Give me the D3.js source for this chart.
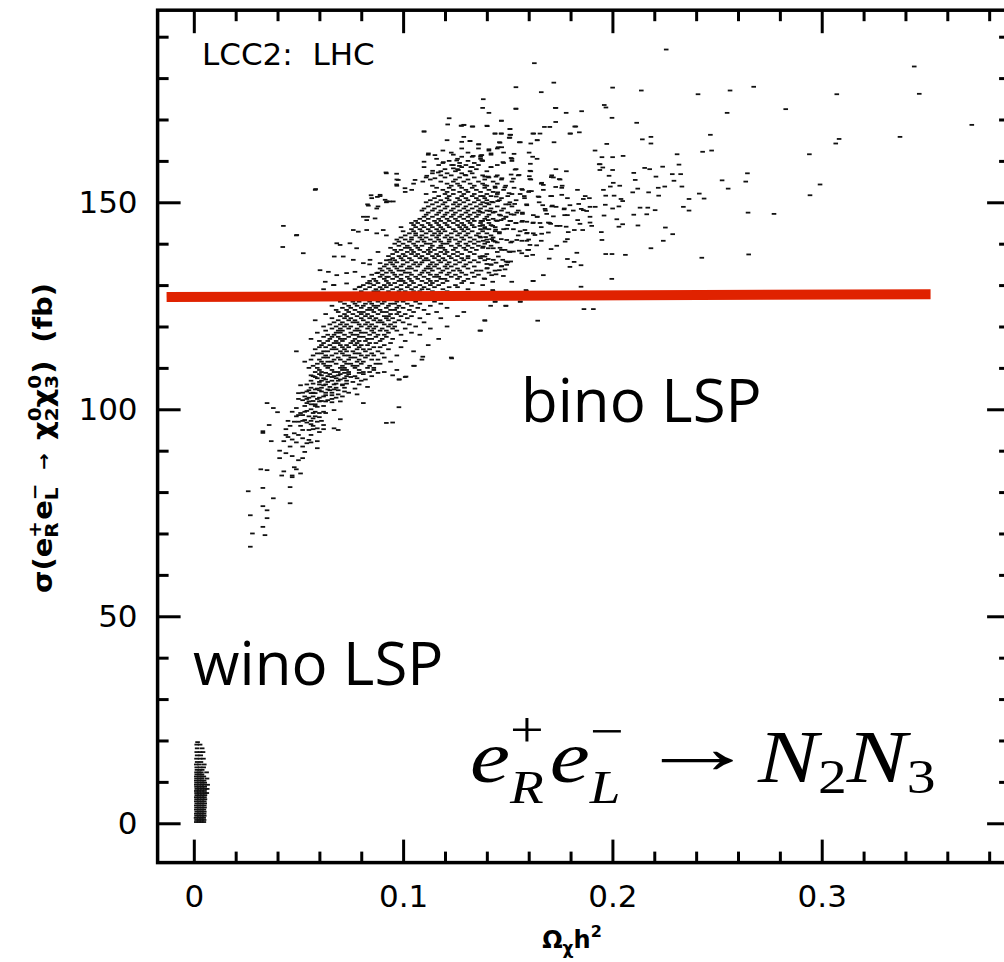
<!DOCTYPE html>
<html>
<head>
<meta charset="utf-8">
<script src="https://cdn.jsdelivr.net/npm/d3@7"></script>
<style>
  body { margin: 0; background: #fff; }
  svg { display: block; }
</style>
</head>
<body>
<svg id="chart" width="1004" height="962"></svg>
<script>
// ---- Axis ticks ----
const omegaMajorTicks = [0, 0.1, 0.2, 0.3];
const omegaMinorTicks = [0.02, 0.04, 0.06, 0.08, 0.12, 0.14, 0.16, 0.18, 0.22, 0.24, 0.26, 0.28, 0.32, 0.34, 0.36, 0.38];
const sigmaMajorTicks = [0, 50, 100, 150];
const sigmaMinorTicks = [10, 20, 30, 40, 60, 70, 80, 90, 110, 120, 130, 140, 160, 170, 180, 190];

// ---- Bino-LSP scan points: rows of [sigma (fb), [Omega h^2 ...]] ----
const binoRows = [
  [66.8,[.027]],[69.6,[.034]],[70.0,[.028]],[71.6,[.033]],[73.7,[.035]],[74.4,[.027]],
  [75.6,[.035]],[76.6,[.033]],[77.3,[.046]],[78.5,[.038]],[80.2,[.026]],[81.0,[.033]],
  [81.2,[.046]],[83.6,[.047]],[84.0,[.042,.047]],[84.5,[.051]],[85.0,[.043]],[85.3,[.035]],
  [85.5,[.032,.049]],[86.0,[.048]],[87.7,[.050]],[88.2,[.041,.052]],[88.7,[.047]],[89.4,[.044]],[89.7,[.053]],
  [90.0,[.041]],[90.6,[.059]],[91.0,[.046,.052]],[91.8,[.054]],[92.0,[.049,.056]],[92.3,[.037,.043,.059]],
  [92.6,[.055]],[92.7,[.047]],[93.0,[.052]],[93.3,[.045]],[93.8,[.044,.050,.056]],[94.2,[.048]],[94.3,[.033]],
  [94.5,[.060]],[94.7,[.033]],[95.0,[.052,.055,.069]],[95.2,[.044,.057,.062]],
  [95.4,[.059,.067]],[96.0,[.046,.051,.057]],[96.2,[.036,.062]],[96.4,[.056]],[96.7,[.092]],[96.8,[.054,.095]],
  [97.0,[.048,.050,.059]],[97.2,[.045,.052,.056,.061]],[97.4,[.053]],[97.6,[.070]],[97.8,[.057]],[98.1,[.060]],
  [98.3,[.049,.055,.058]],[98.6,[.050,.052]],[99.1,[.051,.057,.060,.063]],[99.3,[.040]],[99.4,[.047,.053,.058,.062]],
  [99.6,[.054]],[99.8,[.067]],
  [100.0,[.056]],[100.3,[.038,.049]],[100.5,[.098]],[100.6,[.059]],[100.8,[.053,.058,.062]],[101.2,[.056,.058]],
  [101.5,[.035,.054,.081]],[101.7,[.066]],[101.9,[.055,.060,.063,.070]],[102.0,[.057,.061]],[102.2,[.052,.064]],
  [102.5,[.050,.054,.059,.066]],[102.8,[.055,.060,.068]],[103.1,[.053,.057,.062,.071]],[103.4,[.063,.066]],
  [103.6,[.069,.078]],[103.9,[.050,.056,.058]],[104.0,[.052,.057,.063,.066,.074]],
  [104.3,[.054,.061,.072]],[104.6,[.055,.060,.065,.069]],[104.8,[.058,.064,.067]],[105.0,[.059,.077]],
  [105.2,[.056,.061,.068,.072]],[105.4,[.065,.083]],
  [105.8,[.051,.062,.071]],[106.0,[.054,.060,.063,.067,.071,.079]],[106.2,[.057,.068,.073]],
  [106.6,[.060,.064,.076]],[106.9,[.056,.061,.066,.069,.073,.080]],
  [107.2,[.063,.070,.082,.098]],[107.5,[.059,.062,.068,.072,.078]],[107.8,[.058,.066,.075,.101]],
  [108.0,[.057,.064,.067,.073,.077,.085]],[108.2,[.056,.061,.069,.095]],[108.5,[.060,.065,.070,.074,.081]],
  [108.8,[.063,.072,.079,.088]],
  [109.0,[.058,.061,.067,.069,.074,.081,.084,.091]],
  [109.5,[.060,.066,.071,.073,.079,.086,.097]],
  [110.0,[.055,.059,.064,.070,.072,.077,.083,.086]],
  [110.5,[.057,.063,.065,.071,.076,.078,.084,.105]],
  [111.0,[.059,.062,.068,.073,.075,.080,.087,.089]],
  [111.5,[.053,.061,.064,.066,.072,.078,.081,.094]],
  [112.0,[.056,.060,.067,.070,.074,.079,.085,.088,.109]],
  [112.5,[.062,.064,.069,.075,.077,.082,.091,.123]],
  [113.0,[.057,.063,.066,.072,.074,.080,.083,.086,.097]],
  [113.5,[.059,.061,.068,.071,.077,.079,.085,.090]],
  [114.0,[.049,.062,.064,.070,.073,.076,.082,.088,.105]],
  [114.5,[.058,.066,.068,.072,.078,.081,.084,.093]],
  [115.0,[.060,.063,.067,.071,.074,.079,.086,.089,.099]],
  [115.5,[.061,.065,.070,.073,.077,.080,.083,.091,.112]],
  [116.0,[.062,.067,.069,.075,.078,.084,.087,.094]],
  [116.5,[.060,.064,.068,.071,.076,.079,.082,.089,.101]],
  [117.0,[.056,.065,.070,.072,.077,.083,.085,.090,.095,.117]],
  [117.5,[.062,.066,.069,.074,.079,.081,.087,.092]],
  [118.0,[.064,.067,.072,.076,.078,.084,.088,.091,.099,.108]],
  [118.5,[.059,.068,.070,.075,.080,.082,.086,.093,.104]],
  [119.0,[.063,.069,.071,.077,.079,.085,.089,.092,.097,.137]],
  [119.5,[.066,.070,.074,.078,.083,.086,.090,.095,.101,.113]],
  [120.0,[.062,.068,.072,.075,.080,.084,.087,.093,.096,.106,.121]],
  [120.5,[.065,.070,.073,.079,.082,.085,.091,.094,.103]],
  [121.0,[.067,.071,.076,.078,.083,.088,.090,.096,.100,.110]],
  [121.5,[.058,.069,.074,.077,.081,.086,.089,.093,.098,.139]],
  [122.0,[.066,.072,.075,.080,.084,.087,.092,.095,.102,.108,.118]],
  [122.5,[.070,.073,.078,.082,.085,.091,.093,.099,.104,.126]],
  [123.0,[.063,.072,.076,.080,.083,.088,.094,.097,.101,.112]],
  [123.5,[.069,.074,.079,.081,.086,.090,.092,.098,.105,.116,.129]],
  [124.0,[.068,.073,.077,.083,.085,.089,.094,.096,.103,.110]],
  [124.5,[.071,.075,.080,.084,.087,.092,.097,.100,.107,.121]],
  [125.0,[.066,.074,.078,.081,.086,.088,.093,.098,.104,.113,.149]],
  [125.5,[.072,.077,.082,.085,.090,.094,.096,.102,.108,.118]],
  [126.0,[.070,.076,.079,.084,.088,.091,.097,.100,.106,.115,.144,.156]],
  [126.5,[.074,.078,.083,.087,.089,.095,.099,.103,.110,.124]],
  [127.0,[.073,.076,.081,.086,.090,.093,.098,.104,.108,.119]],
  [127.5,[.077,.080,.085,.088,.092,.097,.101,.105,.112]],
  [128.0,[.075,.079,.083,.089,.091,.096,.100,.107,.111,.117,.127]],
  [128.5,[.080,.086,.088,.093,.098,.101,.105,.108,.114,.121,.143,.159]],
  [129.0,[.062,.077,.082,.087,.090,.095,.099,.104,.109,.112,.119,.131]],
  [129.5,[.079,.084,.089,.092,.097,.102,.106,.110,.115,.122,.126]],
  [130.0,[.067,.081,.086,.091,.094,.099,.103,.108,.113,.117,.125,.138]],
  [130.5,[.083,.088,.093,.096,.101,.105,.111,.114,.119,.128,.133]],
  [131.0,[.084,.087,.092,.098,.100,.104,.109,.113,.116,.121,.129,.162]],
  [131.5,[.086,.091,.095,.099,.103,.107,.112,.118,.120,.126,.131,.139]],
  [132.0,[.081,.089,.093,.097,.102,.106,.110,.115,.117,.123,.127,.134]],
  [132.5,[.085,.090,.096,.099,.104,.108,.113,.116,.121,.125,.130,.136]],
  [133.0,[.088,.092,.095,.101,.103,.109,.112,.118,.122,.128,.133,.141]],
  [133.5,[.090,.094,.098,.100,.106,.110,.114,.119,.124,.127,.135]],
  [134.0,[.089,.093,.097,.102,.104,.111,.113,.117,.121,.126,.131,.140]],
  [134.5,[.091,.096,.099,.103,.107,.112,.115,.120,.123,.129,.134,.147]],
  [135.0,[.084,.092,.095,.100,.105,.108,.113,.116,.121,.125,.130,.142]],
  [135.5,[.094,.097,.102,.106,.109,.114,.118,.122,.127,.132,.136,.150]],
  [136.0,[.092,.096,.100,.104,.110,.112,.117,.120,.125,.129,.134,.139]],
  [136.5,[.095,.099,.103,.108,.111,.115,.119,.123,.128,.131,.137]],
  [137.0,[.093,.098,.101,.106,.109,.114,.117,.122,.126,.131,.138,.159]],
  [137.5,[.095,.100,.104,.107,.112,.116,.120,.124,.128,.134,.140]],
  [138.0,[.088,.097,.102,.105,.110,.113,.118,.121,.126,.132,.145,.151]],
  [138.5,[.096,.099,.104,.108,.112,.115,.120,.124,.130,.135,.147,.160]],
  [139.0,[.094,.101,.103,.107,.113,.117,.119,.125,.129,.133,.138]],
  [139.5,[.098,.102,.106,.109,.114,.118,.123,.127,.131,.136,.142]],
  [140.0,[.096,.100,.105,.111,.113,.119,.121,.126,.130,.134,.139]],
  [140.5,[.098,.103,.107,.110,.115,.118,.122,.127,.132,.136,.144,.152]],
  [141.0,[.097,.101,.104,.109,.113,.117,.122,.125,.129,.134,.140,.160]],
  [141.5,[.099,.104,.108,.111,.116,.120,.123,.128,.132,.137,.143]],
  [142.0,[.049,.092,.101,.106,.109,.114,.117,.121,.126,.130,.135,.142,.155]],
  [142.5,[.103,.106,.111,.115,.118,.123,.127,.131,.136,.140,.146,.159]],
  [143.0,[.100,.105,.109,.113,.117,.120,.125,.129,.133,.138,.144]],
  [143.5,[.104,.108,.112,.116,.119,.124,.128,.131,.137,.141,.148]],
  [144.0,[.099,.106,.110,.114,.118,.122,.127,.130,.134,.139,.144,.166]],
  [144.5,[.105,.109,.113,.117,.121,.126,.129,.133,.138,.142,.150]],
  [145.0,[.104,.107,.112,.116,.120,.124,.128,.132,.137,.141,.154,.162,.170]],
  [145.5,[.106,.110,.115,.118,.122,.126,.131,.134,.138,.145,.151,.157]],
  [146.0,[.108,.112,.117,.121,.125,.129,.133,.139,.143,.148]],
  [146.5,[.083,.110,.114,.119,.123,.127,.131,.135,.140,.149,.164]],
  [147.0,[.111,.116,.120,.124,.128,.132,.136,.141,.146,.153]],
  [147.5,[.112,.117,.121,.125,.130,.134,.138,.143,.150,.157]],
  [148.0,[.109,.114,.118,.123,.127,.131,.136,.140,.147,.155,.168]],
  [148.5,[.110,.115,.120,.124,.129,.133,.137,.142,.148,.177]],
  [149.0,[.088,.112,.117,.121,.126,.130,.135,.139,.145,.152,.171]],
  [149.5,[.083,.114,.119,.124,.127,.132,.137,.141,.149,.159]],
  [150.0,[.092,.111,.116,.120,.125,.129,.134,.138,.143,.151,.165]],
  [150.5,[.113,.118,.122,.127,.131,.136,.140,.146,.154]],
  [151.0,[.085,.115,.121,.126,.130,.135,.139,.147,.158]],
  [151.5,[.089,.117,.122,.128,.133,.137,.142,.150,.171]],
  [152.0,[.111,.120,.124,.129,.134,.140,.145,.152]],
  [152.5,[.101,.115,.121,.127,.131,.137,.143,.160]],
  [153.0,[.058,.119,.124,.130,.135,.141,.148,.157,.167]],
  [153.5,[.116,.122,.128,.133,.139,.144,.153]],
  [154.0,[.097,.114,.123,.127,.134,.140,.149,.176]],
  [154.5,[.105,.121,.126,.132,.138,.145,.166]],
  [155.0,[.118,.124,.129,.136,.143,.152]],
  [155.5,[.097,.113,.125,.131,.139,.147,.161,.175]],
  [156.0,[.111,.120,.127,.134,.141]],
  [156.5,[.118,.123,.130,.138,.145,.155,.171]],
  [157.0,[.092,.114,.121,.128,.133]],
  [157.5,[.118,.125,.132,.140,.161,.178]],
  [158.0,[.120,.126,.135,.154,.173]],
  [158.5,[.110,.128,.133,.142]],
  [159.0,[.117,.124,.130,.136,.145]],
  [159.5,[.119,.127,.134,.148]],
  [160.0,[.122,.131,.138,.152]],
  [160.5,[.116,.126,.137,.152,.164]],
  [161.0,[.128,.133,.137]],
  [161.5,[.112,.124,.142]],
  [162.0,[.123,.131,.148]],
  [162.5,[.119,.141]],
  [163.0,[.128,.136,.145]],
  [164.0,[.136]],[164.5,[.146,.156]],[164.8,[.132]],[165.0,[.121,.164]],[165.6,[.151]],
  [165.8,[.129]],[166.3,[.151]],[166.6,[.144,.147,.162,.180]],[167.1,[.110]],[167.7,[.151]],
  [168.3,[.133,.182]],[168.5,[.128,.140]],[168.7,[.129]],[169.7,[.147]],[170.3,[.122]],
  [172.6,[.154]],[172.8,[.173]],[176.6,[.166]]
];

// ---- Individually placed bino-LSP points on the outer, sparse edge: [Omega h^2, sigma (fb)] ----
const binoOuter = [
  [.1627,183.6],[.1539,177.8],[.172,178.9],[.1383,174.9],[.138,172.8],[.141,171.6],[.1538,172.6],
  [.1727,172.8],[.1779,171.6],[.1853,172],[.1469,169.7],[.1402,168.4],[.1511,167.7],[.1438,166.6],
  [.1468,166.6],[.1514,166.3],[.1507,165.6],[.1624,166.6],[.1654,166.6],[.1675,168.2],[.1701,168.2],
  [.1729,169.4],[.1825,168.3],[.1797,166.6],[.1842,166.9],[.1641,165],[.161,164.2],[.1555,164.5],
  [.1463,164.4],[.1454,163.3],[.1471,163.3],[.1721,164.5],[.141,162.8],[.142,161.8],[.153,161.7],
  [.1602,162],[.1619,161],[.1516,160.7],[.1371,161.3],[.1379,160.1],[.1477,159.7],[.142,158.5],
  [.1535,157.9],[.1608,159.3],[.1606,157.6],[.139,156.2],[.1407,156.2],[.1444,156.2],[.1472,155.8],
  [.1516,156.7],[.1527,155.7],[.1554,156.6],[.1603,156.3],[.1606,155.6],[.1662,154.7],[.1708,156.1],
  [.1718,156],[.1746,155.6],[.139,154.1],[.1439,153.8],[.1486,153.6],[.1567,153.2],[.1602,152.7],
  [.1613,152.7],[.167,154.2],[.1729,153.7],[.1758,153.5],[.1383,151.5],[.1445,151.4],[.1452,152.4],
  [.1506,152.2],[.1559,152],[.1579,151.5],[.1645,151.4],[.1705,151.5],[.1758,151.8],[.1785,151],
  [.1833,153],[.187,151.5],[.189,151],[.14,149.8],[.1423,150.1],[.1452,150.3],[.1506,149.5],
  [.1533,149.6],[.1591,149.3],[.1649,151.3],[.1667,149.3],[.1678,148.4],[.1713,149.2],[.1731,148.9],
  [.1769,148.3],[.1797,149.3],[.1839,149.6],[.1851,148.4],[.1893,148.9],[.1918,148.9],[.1861,150.8],
  [.1367,147.7],[.1415,147.9],[.1439,147.7],[.1466,146.8],[.1492,146.5],[.1516,147.1],[.1543,147.5],
  [.157,147.2],[.1622,146.9],[.1641,146.5],[.1686,147.2],[.1718,146.6],[.1772,146.9],[.1785,146.9],
  [.1813,148],[.1861,148.1],[.1877,147.9],[.1893,146.5],[.1372,145.5],[.1407,145.7],[.1444,145.6],
  [.1468,145.7],[.1514,145.5],[.1538,145],[.1567,145.3],[.1591,145.3],[.1622,145.1],[.1654,145],
  [.1694,145.1],[.1705,144.8],[.1734,144.3],[.175,144.3],[.1779,144.1],[.1834,145.7],[.1845,144.8],
  [.1893,145.1],[.1901,144.3],[.1367,144.3],[.1391,143.6],[.1428,144.3],[.1442,143.4],[.146,142.8],
  [.1495,143.6],[.1527,143.5],[.1559,143],[.1582,143.3],[.1593,142.6],[.1622,142.5],[.163,142.1],
  [.1662,142.4],[.1694,142.7],[.1789,142.8],[.1818,143.3],[.1858,143.3],[.1367,141.7],[.1394,141.6],
  [.1423,141.1],[.1383,140.7],[.1404,140.4],[.1431,140.7],[.145,140.3],[.1469,141.1],[.1495,140.9],
  [.1514,140.3],[.1543,140.9],[.1567,140.7],[.1591,140.7],[.1606,139.7],[.1638,139.6],[.166,140.7],
  [.1707,138.7],[.1734,139.5],[.1774,140.5],[.1785,141.1],[.183,137.8],[.1383,139.3],[.1407,138.9],
  [.1431,138.9],[.1463,139],[.1487,138.5],[.1506,138.1],[.1527,138.1],[.1555,138.3],[.1567,137.7],
  [.1595,138.5],[.1619,137.3],[.1698,136.4],[.1785,136.3],[.1817,135.6],[.185,134.8],[.1797,134.4],
  [.1367,136.9],[.1391,136.9],[.1407,136.3],[.1431,136.1],[.1455,136.9],[.1476,136.1],[.1492,135.7],
  [.1514,135.7],[.14,135.1],[.142,134.9],[.1444,135.4],[.1471,134.6],[.1495,134.9],[.1372,133.5],
  [.1402,134.1],[.1439,133.5],[.146,133.6],[.1487,133.8],[.1423,132.4],[.1444,132.6],[.1479,132.2],
  [.1387,131.6],[.1428,130.8],[.1519,130.8],[.1622,131],[.167,132.4],[.1587,128.8],[.1428,128.8],
  [.1439,126],[.1418,125],[.1492,125],[.1559,126],[.1864,124.2],[.1909,124.2],[.185,129.6],
  [.1917,162.5],[.1937,159.2],[.194,157.8],[.1643,121.4],[.1391,121.4],[.1367,119],[.1232,112.3],
  [.1094,112.7],[.1054,110.5],[.1014,107.9],[.0982,107.2],[.11,167.1],[.1213,168.8],[.1277,168.5],
  [.1291,168.7],[.1333,168.3],[.128,164.6],[.1319,164.8],[.1362,164],[.1121,161.8],[.1152,161.4],
  [.1192,159.7],[.1232,159],[.1256,160.1],[.1269,158.8],[.1335,161.2],[.1376,161.4],[.1324,158.5],
  [.1376,160.1],[.11,159.8],[.1141,157.6],[.1168,157.2],[.124,158.2],[.1264,157.8],[.1296,156.6],
  [.0918,157.2],[.0969,156.9],[.1113,156.4],[.1152,155.8],[.1057,155.4],[.1094,155],[.0977,155.4],
  [.0969,154.3],[.1009,153.4],[.1041,153],[.0914,150.6],[.0934,150.2],[.0847,151.7],[.0877,151.3],
  [.0582,153.2],[.0523,137.7],[.0428,144.3],[.0492,142.1],[.0425,139.2],[.0890,151.8],[.0922,150.2],
  [.0953,150.2],[.0834,149.2],[.0874,148.5],[.081,146.5],[.0826,145.7],[.0866,146.1],[.0762,143.3],
  [.0786,142.9],[.0826,143.3],[.0874,142.5],[.0905,143.3],[.0683,140.1],[.0699,139.7],[.0746,140.1],
  [.0778,138.9],[.0714,136.9],[.0762,136.1],[.081,135.3],[.0842,136.1],[.089,135.3],[.0937,136.1],
  [.0603,133.6],[.0643,133.2],[.0683,132.4],[.073,132.9],[.077,133.2],[.0874,132.9],[.0922,132],
  [.0628,130.8],[.0667,130],[.073,130.4],[.0794,129.6],[.0842,130.4],[.0671,136.9],
  // far tail above 0.19
  [.2257,186.9],[.3442,182.8],[.3466,176.2],[.3717,168.7],[.3374,165.8],[.3072,176.1],[.3083,165.3],
  [.3067,164.2],[.2941,161.6],[.2992,154.3],[.2944,151.7],[.2828,172.5],[.2675,177.9],[.2562,177],
  [.2409,176.1],[.2548,171.6],[.2138,177],[.2001,177.7],[.1961,173.5],[.1969,172.9],[.1998,170.4],
  [.2116,169.2],[.1973,164.1],[.2143,165.2],[.2184,165.8],[.2184,164.2],[.2468,166.3],[.2431,162.2],
  [.2474,162.5],[.2309,161.6],[.2318,159.1],[.224,158.6],[.2154,158.3],[.2178,158],[.2102,157.1],
  [.2208,156.2],[.2286,156.8],[.2326,156.8],[.2294,155.2],[.2332,153.8],[.225,153.8],[.2219,153.5],
  [.2109,155.4],[.2121,153.3],[.2097,152.4],[.2173,152.4],[.2221,151.6],[.2366,150.8],[.2415,152.1],
  [.2438,150.9],[.2339,148.9],[.2366,148],[.2132,148.7],[.2169,148.7],[.2204,148.1],[.2164,147.1],
  [.2102,147],[.2524,155.3],[.2553,153.3],[.2637,155],[.2645,157],[.2648,147.5],[.2772,147.2],
  [.2651,137.4],[.2427,136.6],[.2253,143.9],[.2288,142.3],[.2243,140.7],[.2184,138.9],[.2122,144.4],
  [.2031,144.1],[.2049,144.7],[.2021,145.9],[.196,146.8],[.2001,148.5],[.2031,149],[.1966,149.4],
  [.2008,151.6],[.1968,151.6],[.2041,150.8],[.2049,150.3],[.1957,153],[.199,153.8],[.2035,154],
  [.2004,154.7],[.1984,156.4],[.2001,157.8],[.1941,159.2],[.1954,158.4],[.195,160.9],[.2001,160.9],
  [.2051,161.2],[.1947,142.8],[.195,140.9],[.1968,137.5],[.1998,137.5],[.2062,137.3],[.1997,131.5]
];

// ---- Wino-LSP scan points: rows of [sigma (fb), [Omega h^2 ...]] ----
const winoRows = [
  [0.3,[.0012,.0024,.0036,.0048]],[0.8,[.0013,.0025,.0037,.0049]],[1.3,[.0011,.0024,.0036,.0047]],
  [1.8,[.0013,.0026,.0038,.0050]],[2.3,[.0012,.0024,.0036,.0049]],[2.8,[.0014,.0026,.0038,.0050]],
  [3.3,[.0012,.0025,.0037,.0048]],[3.8,[.0013,.0026,.0039,.0051]],[4.3,[.0012,.0024,.0037,.0050]],
  [4.8,[.0014,.0027,.0039,.0052]],[5.3,[.0012,.0025,.0038,.0050]],[5.8,[.0013,.0026,.0040,.0053]],
  [6.3,[.0012,.0025,.0038,.0051]],[6.8,[.0014,.0027,.0040,.0053]],[7.3,[.0013,.0026,.0039,.0052,.0062]],
  [7.8,[.0012,.0025,.0038,.0051]],[8.3,[.0014,.0027,.0040,.0053,.0064]],[8.8,[.0013,.0026,.0039,.0052]],
  [9.3,[.0012,.0025,.0038,.0050,.0066]],[9.8,[.0013,.0027,.0040,.0052]],[10.3,[.0012,.0025,.0038,.0049]],
  [10.8,[.0013,.0026,.0039,.0063]],[11.3,[.0012,.0025,.0037,.0048]],[11.8,[.0014,.0027,.0039]],
  [12.3,[.0013,.0025,.0036,.0061]],[12.9,[.0015,.0028,.0040]],[13.5,[.0014,.0030,.0047]],
  [14.2,[.0012,.0027,.0050]],[14.8,[.0016,.0034]],[15.6,[.0013,.0030,.0046]],[16.4,[.0016,.0033]],
  [17.2,[.0014,.0030,.0044]],[18.1,[.0016,.0040]],[19.0,[.0014,.0030]],[19.6,[.0018]]
];

// ---- Measured cross-section band [Omega h^2, sigma (fb)] ----
const measuredBand = [[-0.013, 127.1], [0.352, 127.8]];

// ---- Layout ----
const svg = d3.select("#chart");
const x = d3.scaleLinear().domain([-0.0173, 0.39]).range([157.6, 1010.1]);
const y = d3.scaleLinear().domain([-9.5, 196.4]).range([862.6, 10.2]);
const [xl, xr] = x.range();
const [yb, yt] = y.range();

const tickFont = "'DejaVu Sans', sans-serif";

// Scatter points, drawn as short dashes
const dashW = 4.6, dashH = 1.8;
const points = [];
binoRows.forEach(([s, os]) => os.forEach(o => points.push([o, s])));
binoOuter.forEach(p => points.push(p));
winoRows.forEach(([s, os]) => os.forEach(o => points.push([o, s])));

svg.append("g").attr("class", "points")
  .selectAll("rect").data(points).join("rect")
  .attr("x", d => x(d[0]) - dashW / 2)
  .attr("y", d => y(d[1]) - dashH / 2)
  .attr("width", dashW).attr("height", dashH)
  .attr("fill", "#111");

// Measurement band
svg.append("path")
  .datum(measuredBand)
  .attr("d", d3.line().x(d => x(d[0])).y(d => y(d[1])))
  .attr("stroke", "#e02200").attr("stroke-width", 10).attr("fill", "none");

// Axes (ticks point into the frame)
function styleAxis(g) {
  g.select(".domain").remove();
  g.selectAll(".tick line").attr("stroke", "#000").attr("stroke-width", 3);
  g.selectAll(".tick text").attr("font-family", tickFont).attr("font-size", 31).attr("fill", "#000");
}
const fmtOmega = d => d === 0 ? "0" : d3.format(".1f")(d);

svg.append("g").attr("transform", `translate(0,${yb})`)
  .call(d3.axisBottom(x).tickValues(omegaMajorTicks).tickSizeInner(-23).tickSizeOuter(0).tickPadding(22).tickFormat(fmtOmega))
  .call(styleAxis);
svg.append("g").attr("transform", `translate(0,${yb})`)
  .call(d3.axisBottom(x).tickValues(omegaMinorTicks).tickSizeInner(-11).tickSizeOuter(0).tickFormat(""))
  .call(styleAxis);
svg.append("g").attr("transform", `translate(0,${yt})`)
  .call(d3.axisTop(x).tickValues(omegaMajorTicks).tickSizeInner(-23).tickSizeOuter(0).tickFormat(""))
  .call(styleAxis);
svg.append("g").attr("transform", `translate(0,${yt})`)
  .call(d3.axisTop(x).tickValues(omegaMinorTicks).tickSizeInner(-11).tickSizeOuter(0).tickFormat(""))
  .call(styleAxis);

svg.append("g").attr("transform", `translate(${xl},0)`)
  .call(d3.axisLeft(y).tickValues(sigmaMajorTicks).tickSizeInner(-23).tickSizeOuter(0).tickPadding(20).tickFormat(d3.format("d")))
  .call(styleAxis);
svg.append("g").attr("transform", `translate(${xl},0)`)
  .call(d3.axisLeft(y).tickValues(sigmaMinorTicks).tickSizeInner(-11).tickSizeOuter(0).tickFormat(""))
  .call(styleAxis);
svg.append("g").attr("transform", `translate(${xr},0)`)
  .call(d3.axisRight(y).tickValues(sigmaMajorTicks).tickSizeInner(-23).tickSizeOuter(0).tickFormat(""))
  .call(styleAxis);
svg.append("g").attr("transform", `translate(${xr},0)`)
  .call(d3.axisRight(y).tickValues(sigmaMinorTicks).tickSizeInner(-11).tickSizeOuter(0).tickFormat(""))
  .call(styleAxis);

// Frame
svg.append("rect")
  .attr("x", xl).attr("y", yt).attr("width", xr - xl).attr("height", yb - yt)
  .attr("fill", "none").attr("stroke", "#000").attr("stroke-width", 3.5);

// Lay out a run of text pieces with sub/superscripts; returns total width.
function richText(g, runs, base) {
  let cursor = 0, lastStart = 0;
  runs.forEach(r => {
    const t = g.append("text")
      .attr("font-family", r.family || base.family)
      .attr("font-size", r.size || base.size)
      .attr("font-weight", r.weight || base.weight || "normal")
      .attr("font-style", r.italic ? "italic" : "normal")
      .attr("fill", "#000")
      .attr("y", r.shift || 0)
      .text(r.t);
    const w = t.node().getComputedTextLength();
    const x0 = r.stack ? lastStart : cursor + (r.gap || 0);
    t.attr("x", x0);
    if (!r.stack) lastStart = x0;
    cursor = Math.max(cursor, x0 + w);
  });
  return cursor;
}

// Corner label
svg.append("text").attr("x", 202).attr("y", 65)
  .attr("font-family", tickFont).attr("font-size", 31).attr("fill", "#000")
  .attr("xml:space", "preserve").style("white-space", "pre")
  .text("LCC2:  LHC");

// Region labels
const regionFont = "'Open Sans', sans-serif";
svg.append("text").attr("x", 521).attr("y", 422)
  .attr("font-family", regionFont).attr("font-size", 60).attr("fill", "#000").text("bino LSP");
svg.append("text").attr("x", 193).attr("y", 685)
  .attr("font-family", regionFont).attr("font-size", 60).attr("fill", "#000").text("wino LSP");

// Process formula (serif italic, widened to the math-font proportions)
const serif = "'Liberation Serif', serif";
const f1 = svg.append("g").attr("transform", "translate(470,782) scale(1.2,1)");
richText(f1, [
  { t: "e", italic: true },
  { t: "+", size: 50, shift: -35 },
  { t: "R", size: 46, italic: true, shift: 21, stack: true },
  { t: "e", italic: true, gap: 5 },
  { t: "\u2212", size: 50, shift: -34 },
  { t: "L", size: 46, italic: true, shift: 21, stack: true }
], { family: serif, size: 75 });
svg.append("text").attr("transform", "translate(697,773) scale(1.6,1)").attr("text-anchor", "middle")
  .attr("font-family", serif).attr("font-size", 75).attr("fill", "#000").text("\u2192");
const f2 = svg.append("g").attr("transform", "translate(758,782) scale(1.2,1)");
richText(f2, [
  { t: "N", italic: true },
  { t: "2", size: 48, shift: 11 },
  { t: "N", italic: true },
  { t: "3", size: 48, shift: 11 }
], { family: serif, size: 75 });

// Y-axis title (rotated, stretched along the reading direction)
const boldFont = "'DejaVu Sans', sans-serif";
const yTitle = svg.append("g").attr("transform", "translate(52,438) rotate(-90)");
const yInner = yTitle.append("g");
const yW = richText(yInner, [
  { t: "\u03c3(e" },
  { t: "+", size: 18, shift: -11 },
  { t: "R", size: 18, shift: 6, stack: true },
  { t: "e", gap: 1 },
  { t: "\u2212", size: 18, shift: -11 },
  { t: "L", size: 18, shift: 6, stack: true },
  { t: "\u2192", size: 18, shift: -2, gap: 12 },
  { t: "\u03c7", gap: 12 },
  { t: "0", size: 18, shift: -11 },
  { t: "2", size: 18, shift: 6, stack: true },
  { t: "\u03c7" },
  { t: "0", size: 18, shift: -11 },
  { t: "3", size: 18, shift: 6, stack: true },
  { t: ")", gap: 1 },
  { t: "(fb)", gap: 16 }
], { family: boldFont, size: 26, weight: "bold" });
const yStretch = 310 / yW;
yInner.attr("transform", `scale(${yStretch},1) translate(${-yW / 2},0)`);

// X-axis title
const xTitle = svg.append("g").attr("transform", "translate(572,948)");
const xInner = xTitle.append("g");
const xW = richText(xInner, [
  { t: "\u03a9" },
  { t: "\u03c7", size: 17, shift: 6 },
  { t: "h" },
  { t: "2", size: 16, shift: -11 }
], { family: boldFont, size: 24, weight: "bold" });
xInner.attr("transform", `translate(${-xW / 2},0)`);
</script>
</body>
</html>
